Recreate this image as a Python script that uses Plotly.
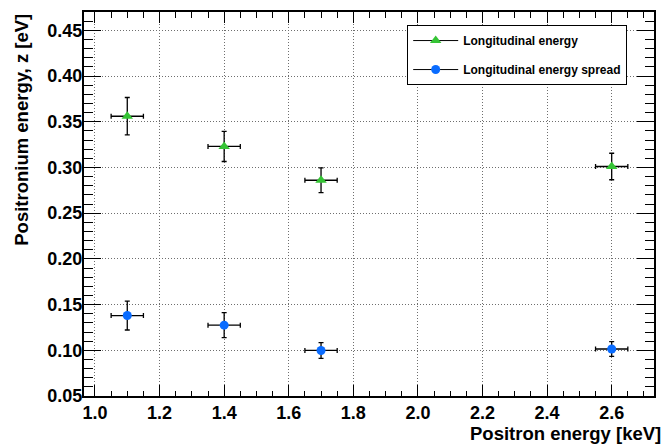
import plotly.graph_objects as go

# Data
positron_energy = [1.1, 1.4, 1.7, 2.6]
positron_energy_err = [0.05, 0.05, 0.05, 0.05]
long_energy = [0.356, 0.323, 0.286, 0.301]
long_energy_err = [0.0205, 0.0165, 0.0136, 0.0145]
long_spread = [0.138, 0.1275, 0.0998, 0.1014]
long_spread_err = [0.0158, 0.0136, 0.0086, 0.008]

legend_names = ["Longitudinal energy", "Longitudinal energy spread"]
green = "#35c435"
blue = "#0a6cff"
FONT = "Liberation Sans"

fig = go.Figure()

def add_series(y, yerr, color, symbol, size):
    fig.add_trace(go.Scatter(
        x=positron_energy, y=y, mode="markers",
        marker=dict(color=color, symbol=symbol, size=size, line=dict(width=0)),
        error_x=dict(type="data", array=positron_energy_err, color="black", thickness=1.3, width=2.5),
        error_y=dict(type="data", array=yerr, color="black", thickness=1.3, width=2.5),
        showlegend=False, hoverinfo="x+y"))

add_series(long_energy, long_energy_err, green, "triangle-up", 10)
add_series(long_spread, long_spread_err, blue, "circle", 9)

# legend entries
for name, color, symbol, size, grp in [(legend_names[0], green, "triangle-up", 10, "a"),
                                       (legend_names[1], blue, "circle", 9, "b")]:
    fig.add_trace(go.Scatter(
        x=[None], y=[None], mode="lines+markers", name=name, legendgroup=grp,
        line=dict(color="black", width=1),
        marker=dict(color=color, symbol=symbol, size=size, line=dict(width=0))))

axis_common = dict(
    showline=True, linecolor="black", linewidth=2, mirror="allticks",
    ticks="inside", tickcolor="black", tickwidth=1.2,
    showgrid=True, gridcolor="#6e6e6e", griddash="1px,2px", gridwidth=1,
    zeroline=False,
    tickfont=dict(family=FONT, size=18, color="black", weight="bold"),
)

fig.update_xaxes(
    range=[0.966, 2.731], dtick=0.2, tick0=1.0, tickformat=".1f", ticklen=11,
    ticklabelstandoff=-1,
    minor=dict(ticks="inside", dtick=0.05, tick0=1.0, ticklen=5.5, tickcolor="black", tickwidth=1, showgrid=False),
    **axis_common)
fig.update_yaxes(
    range=[0.05, 0.47], dtick=0.05, tick0=0.05, tickformat=".2f", ticklen=17,
    ticklabelstandoff=-4,
    minor=dict(ticks="inside", dtick=0.01, tick0=0.05, ticklen=9, tickcolor="black", tickwidth=1, showgrid=False),
    **axis_common)

fig.add_annotation(
    text="Positron energy [keV]", xref="paper", yref="paper",
    x=1.016, y=-0.098, xanchor="right", yanchor="middle", showarrow=False,
    font=dict(family=FONT, size=18.5, color="black", weight="bold"))
fig.add_annotation(
    text="Positronium energy, z [eV]", xref="paper", yref="paper",
    x=-0.111, y=1.0, xanchor="center", yanchor="top", textangle=-90, showarrow=False,
    font=dict(family=FONT, size=18.5, color="black", weight="bold"))

fig.update_layout(
    width=667, height=444,
    margin=dict(l=84, r=13, t=10, b=48),
    paper_bgcolor="white", plot_bgcolor="white",
    legend=dict(
        x=0.567, y=0.966, xanchor="left", yanchor="top",
        bgcolor="white", bordercolor="black", borderwidth=1,
        font=dict(family=FONT, size=12, color="black", weight="bold"),
        traceorder="grouped", tracegroupgap=10, itemwidth=45,
    ),
)

fig.write_html("out.html")
